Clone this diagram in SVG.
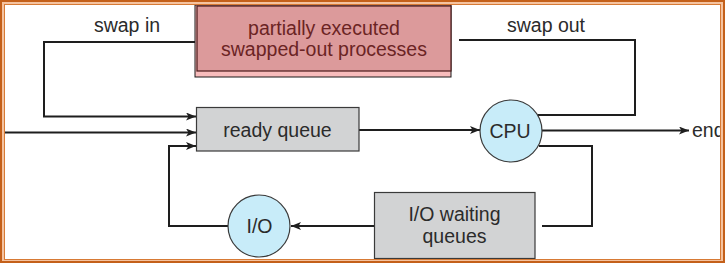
<svg xmlns="http://www.w3.org/2000/svg" width="725" height="263" viewBox="0 0 725 263">
<style>
text{font-family:"Liberation Sans",Arial,sans-serif;font-size:19.5px;fill:#2b2b2b;text-anchor:middle}
.ln{fill:none;stroke:#1e1e1e;stroke-width:2}
.box{fill:#d2d3d4;stroke:#3a3a3a;stroke-width:1.2}
.circ{fill:#c8ecf9;stroke:#3a3a3a;stroke-width:1.2}
.pk{fill:#6b2424}
</style>
<defs>
<marker id="ah" markerUnits="userSpaceOnUse" markerWidth="12" markerHeight="10" refX="10" refY="4" orient="auto">
<path d="M0,0 L10,4 L0,8 L2.5,4 Z" fill="#1e1e1e"/>
</marker>
</defs>
<rect width="725" height="263" fill="#ffffff"/>
<g id="connectors">
<path class="ln" d="M197,42 H44 V116.5 H196" marker-end="url(#ah)"/>
<path class="ln" d="M4,132.5 H196" marker-end="url(#ah)"/>
<path class="ln" d="M228,226 H169 V146 H196" marker-end="url(#ah)"/>
<path class="ln" d="M359,130 H480" marker-end="url(#ah)"/>
<path class="ln" d="M538,115 H635 V40 H459"/>
<path class="ln" d="M539,146 H592 V226 H542"/>
<path class="ln" d="M542,130.5 H689" marker-end="url(#ah)"/>
<path class="ln" d="M374,226 H291" marker-end="url(#ah)"/>
<text x="127" y="32">swap in</text>
<text x="546" y="32">swap out</text>
<text x="692" y="137" style="text-anchor:start">end</text>
</g>
<g id="swapped">
<rect x="195" y="5" width="256" height="72" fill="#f8bcbc" stroke="#1a1a1a" stroke-width="1"/>
<rect x="197" y="6" width="254" height="65" fill="#dc9a9b" stroke="#4a1a1a" stroke-width="1.2"/>
<text class="pk" x="324" y="35">partially executed</text>
<text class="pk" x="324" y="56">swapped-out processes</text>
</g>
<g id="ready">
<rect class="box" x="196.5" y="107.5" width="162.5" height="43.5"/>
<text x="277.5" y="137">ready queue</text>
</g>
<g id="cpu">
<circle class="circ" cx="511" cy="131" r="31"/>
<text x="510" y="137.5">CPU</text>
</g>
<g id="io">
<circle class="circ" cx="259" cy="226" r="31"/>
<text x="259.5" y="232.5">I/O</text>
</g>
<g id="iowait">
<rect class="box" x="374.5" y="192.5" width="160.5" height="66"/>
<text x="454.5" y="221">I/O waiting</text>
<text x="454.5" y="243">queues</text>
</g>
<g id="frame">
<path fill="#f5c3a0" fill-rule="evenodd" d="M0,0H725V263H0Z M4,4H721V260H4Z"/>
<rect x="1" y="1" width="723" height="261" fill="none" stroke="#c4601a" stroke-width="2"/>
<rect x="4.5" y="4.5" width="716" height="255" fill="none" stroke="#d77a35" stroke-width="1"/>
</g>
</svg>
